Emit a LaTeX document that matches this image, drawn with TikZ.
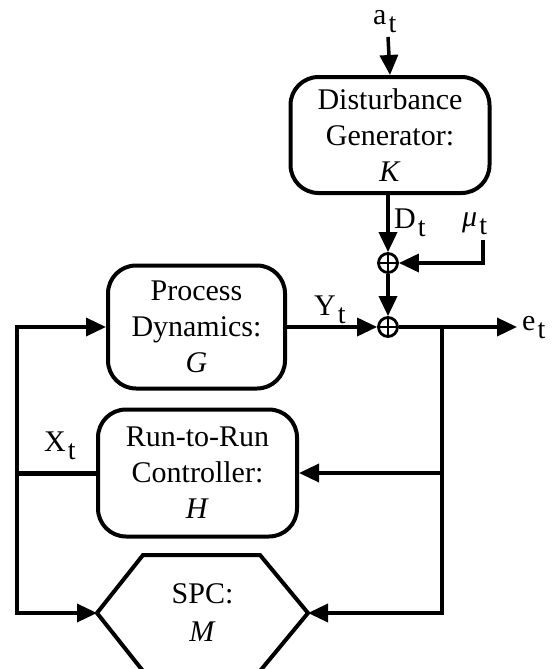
\documentclass[tikz,border=0pt]{standalone}
\usepackage{fontspec}
\setmainfont{Liberation Serif}
\usetikzlibrary{arrows.meta}
\newcommand\tsub[1]{\kern2pt\raisebox{-8pt}{\fontsize{28}{28}\selectfont #1}}
\tikzset{
  conn/.style={line width=3.5pt},
  arr/.style={conn, -{Triangle[length=20pt,width=18pt]}},
  blk/.style={draw, line width=4pt, rounded corners=28pt, inner sep=0pt,
    align=center, font=\fontsize{30}{36}\selectfont},
  lbl/.style={inner sep=0pt, anchor=base west, font=\fontsize{30}{36}\selectfont},
  sumnode/.style={circle, draw, line width=2.8pt, minimum size=19pt, inner sep=0pt,
    path picture={\draw[line width=1.4pt]
      (path picture bounding box.north) -- (path picture bounding box.south)
      (path picture bounding box.west) -- (path picture bounding box.east);}}
}
\begin{document}
\begin{tikzpicture}[x=1pt, y=-1pt]
\useasboundingbox (0,0) rectangle (557,669);
% blocks
\node[blk, minimum width=199pt, minimum height=116pt] (dist) at (390,135)
  {Disturbance\\Generator:\\\textit{K}};
\node[blk, minimum width=177pt, minimum height=123pt] (proc) at (196.5,327)
  {Process\\Dynamics:\\\textit{G}};
\node[blk, minimum width=199pt, minimum height=127pt] (r2r) at (197.5,473)
  {Run-to-Run\\Controller:\\\textit{H}};
% SPC hexagon
\coordinate (spcW) at (97,613);
\coordinate (spcE) at (308,613);
\draw[line width=4pt, line join=miter] (143,671) -- (spcW) -- (143,555) -- (260,555) -- (spcE) -- (260,671);
\node[align=center, inner sep=0pt, font=\fontsize{30}{38}\selectfont] (spc) at (202.5,613) {SPC:\\\textit{M}};
% summing junctions
\node[sumnode] (sum1) at (388,263) {};
\node[sumnode] (sum2) at (388,327) {};
% coordinates
\coordinate (atop) at (388,37);
\coordinate (mu0) at (483,240);
\coordinate (eout) at (517,327);
\coordinate (j1) at (442,327);
\coordinate (j2) at (442,473);
\coordinate (j3) at (442,613);
\coordinate (l1) at (17,327);
\coordinate (l2) at (17,473);
\coordinate (l3) at (17,613);
% connectors
\draw[arr] (atop) -- (dist.south |- dist.north);
\draw[arr] (sum1.north |- dist.south) -- (sum1.north);
\draw[arr] (mu0) |- (sum1.east);
\draw[arr] (sum1.south) -- (sum2.north);
\draw[arr] (proc.east) -- (sum2.west);
\draw[arr] (sum2.east) -- (eout);
\draw[arr] (j1) -- (j2) -- (r2r.east);
\draw[arr] (j2) -- (j3) -- (spcE);
\draw[line width=5pt] (r2r.west) -- (l2);
\draw[arr] (l2) -- (l1) -- (proc.west);
\draw[arr] (l2) -- (l3) -- (spcW);
% labels
\node[lbl] (la) at (373,25) {a\tsub{t}};
\node[lbl] (ld) at (394,228) {D\tsub{t}};
\node[lbl] (lmu) at (462,226) {\textit{μ}\tsub{t}};
\node[lbl] (ly) at (314,315) {Y\tsub{t}};
\node[lbl] (le) at (522,330) {e\tsub{t}};
\node[lbl] (lx) at (44,451) {X\tsub{t}};
\end{tikzpicture}
\end{document}
